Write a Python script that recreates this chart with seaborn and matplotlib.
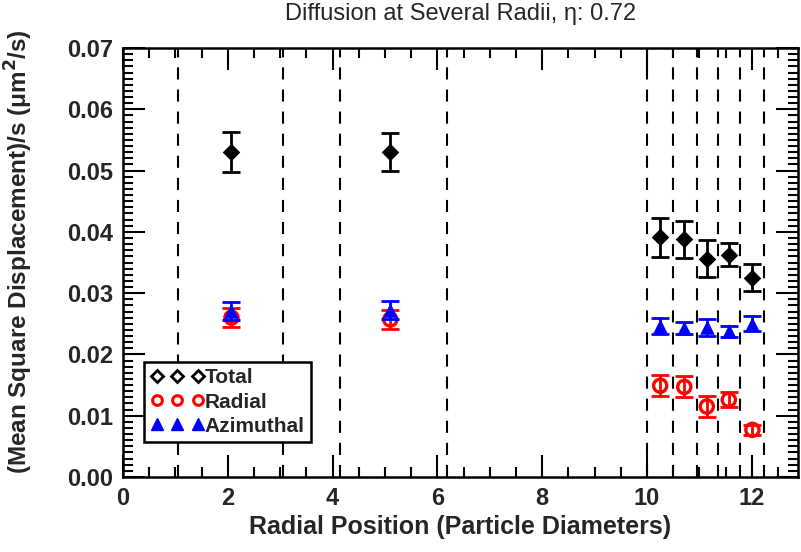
import numpy as np
import pandas as pd
import matplotlib
matplotlib.use("Agg")
import matplotlib.pyplot as plt
from matplotlib.lines import Line2D
from matplotlib.ticker import MultipleLocator
import seaborn as sns

# ---- data ----
x_pos = [2.07, 5.10, 10.25, 10.71, 11.14, 11.56, 12.01]
total = [0.0530, 0.0531, 0.0391, 0.0388, 0.0356, 0.0363, 0.0325]
total_err = [0.0033, 0.0031, 0.0032, 0.0030, 0.0030, 0.0019, 0.0022]
radial = [0.0260, 0.0257, 0.0149, 0.0147, 0.0115, 0.0126, 0.0077]
radial_err = [0.0015, 0.0015, 0.0017, 0.0017, 0.0017, 0.0012, 0.0008]
azimuthal = [0.0271, 0.0272, 0.0246, 0.0243, 0.0244, 0.0238, 0.0250]
azimuthal_err = [0.0015, 0.0015, 0.0013, 0.0010, 0.0014, 0.0009, 0.0012]
bin_edges = [1.05, 3.05, 4.14, 6.18, 10.0, 10.5, 10.96, 11.36, 11.78, 12.24]
series_names = ["Total", "Radial", "Azimuthal"]
x_ticks = [0, 2, 4, 6, 8, 10, 12]
y_ticks = [0.00, 0.01, 0.02, 0.03, 0.04, 0.05, 0.06, 0.07]

sns.set_theme(style="ticks")
plt.rcParams["font.family"] = ["Liberation Sans", "DejaVu Sans"]
plt.rcParams["mathtext.fontset"] = "custom"

fig = plt.figure(figsize=(8.01, 5.52), dpi=100)
ax = fig.add_axes([123/801, 1-477/552, (798-123)/801, (477-48)/552])

for xe in bin_edges:
    ax.axvline(xe, color="black", lw=1.5, ls=(0, (5.8, 4.8)), zorder=1)

df = pd.DataFrame({
    "x": x_pos * 3,
    "y": total + radial + azimuthal,
    "err": total_err + radial_err + azimuthal_err,
    "series": [s for s in series_names for _ in x_pos],
})

colors = {"Total": "black", "Radial": "#ff0000", "Azimuthal": "#0000ff"}

# radial first, then azimuthal on top
d = df[df.series == "Radial"]
ax.errorbar(d.x, d.y, yerr=d.err, fmt="none", ecolor=colors["Radial"],
            elinewidth=2.0, capsize=6.5, capthick=2.0, zorder=3)
sns.scatterplot(data=d, x="x", y="y", marker="o",
                facecolor="none", edgecolor="#ff0000", s=90, linewidth=2.4,
                ax=ax, zorder=4, legend=False)

d = df[df.series == "Total"]
ax.errorbar(d.x, d.y, yerr=d.err, fmt="none", ecolor=colors["Total"],
            elinewidth=2.0, capsize=6.5, capthick=2.0, zorder=3)
sns.scatterplot(data=d, x="x", y="y", marker="D",
                color="black", s=80, edgecolor="black", linewidth=0, ax=ax,
                zorder=4, legend=False)

d = df[df.series == "Azimuthal"]
sns.scatterplot(data=d, x="x", y="y", marker="^",
                color="#0000ff", s=110, edgecolor="#0000ff", linewidth=0, ax=ax,
                zorder=5, legend=False)
ax.errorbar(d.x, d.y, yerr=d.err, fmt="none", ecolor=colors["Azimuthal"],
            elinewidth=2.0, capsize=6.5, capthick=2.0, zorder=6)

ax.set_xlim(0, 12.88)
ax.set_ylim(0, 0.07)
ax.set_xticks(x_ticks)
ax.set_yticks(y_ticks)
ax.set_xticklabels([str(t) for t in x_ticks])
ax.set_yticklabels([f"{t:.2f}" for t in y_ticks])
ax.xaxis.set_minor_locator(MultipleLocator(0.5))
ax.yaxis.set_minor_locator(MultipleLocator(0.001))
ax.tick_params(which="both", direction="in", top=True, right=True,
               color="black", width=1.5)
ax.tick_params(which="major", length=15.5, labelsize=17, pad=7)
ax.tick_params(which="minor", length=7)
for lab in ax.get_xticklabels() + ax.get_yticklabels():
    lab.set_fontweight("bold")
for sp in ax.spines.values():
    sp.set_linewidth(1.8)
    sp.set_color("black")
ax.grid(False)

ax.set_xlabel("Radial Position (Particle Diameters)", fontsize=18,
              fontweight="bold", labelpad=4)
ax.set_ylabel("(Mean Square Displacement)/s (μm$^\\mathbf{2}$/s)", fontsize=17.5,
              fontweight="bold")
ax.yaxis.set_label_coords(-0.131, 0.525)
ax.set_title("Diffusion at Several Radii, η: 0.72", fontsize=17, pad=20)

handles = [
    Line2D([], [], ls="none", marker="D", markersize=6, markerfacecolor="none",
           markeredgecolor="black", markeredgewidth=2),
    Line2D([], [], ls="none", marker="o", markersize=7, markerfacecolor="none",
           markeredgecolor="#ff0000", markeredgewidth=2.2),
    Line2D([], [], ls="none", marker="^", markersize=8, color="#0000ff"),
]
leg = ax.legend(handles, series_names, loc="lower left",
                bbox_to_anchor=((144-123)/675, (477-442)/429), numpoints=3,
                frameon=True, fancybox=False, edgecolor="black", framealpha=1,
                prop={"weight": "bold", "size": 15}, handlelength=2.6,
                handletextpad=0.0, labelspacing=0.25, borderpad=0.3,
                borderaxespad=0)
leg.get_frame().set_linewidth(1.8)

fig.savefig("out.png", dpi=100)
